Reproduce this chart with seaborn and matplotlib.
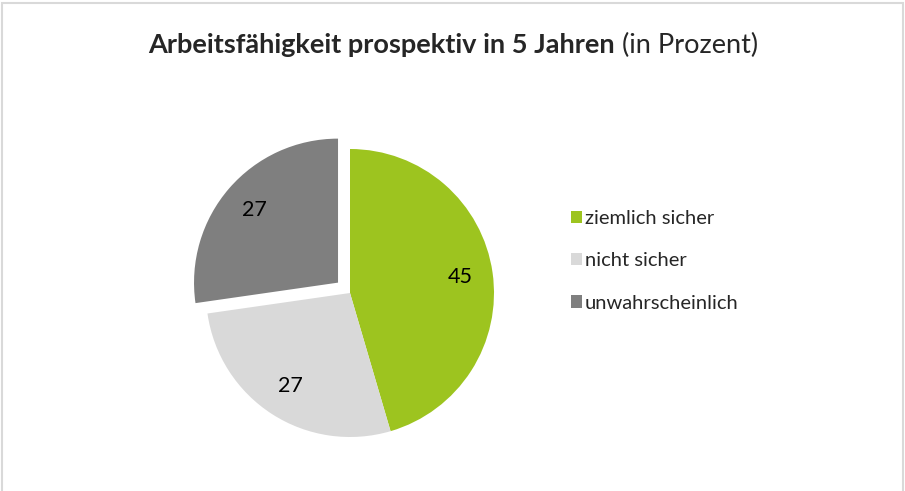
import seaborn as sns
import matplotlib.pyplot as plt
from matplotlib.patches import Rectangle

# data
categories = ['ziemlich sicher', 'nicht sicher', 'unwahrscheinlich']
values = [45, 27, 27]
colors = ['#9DC41F', '#D9D9D9', '#7F7F7F']
explode = [0, 0, 0.11]

sns.set_theme(style="white")
plt.rcParams['font.family'] = ['Lato', 'DejaVu Sans']

fig = plt.figure(figsize=(9.05, 4.91), dpi=100)

# light frame around the chart area (open at the bottom)
fig.patches.append(Rectangle((2 / 905, -0.1), 901 / 905, 1.1 - 3 / 491,
                             transform=fig.transFigure, fill=False,
                             edgecolor='#D9D9D9', linewidth=1.5))

# square axes so the pie sits where it does in the original
ax = fig.add_axes([170 / 905, 18 / 491, 360 / 905, 360 / 491])
total = sum(values)
wedges, texts, autotexts = ax.pie(
    values, colors=colors, explode=explode, startangle=90, counterclock=False,
    autopct=lambda p: f"{p * total / 100:.0f}", pctdistance=0.77,
    wedgeprops=dict(linewidth=0), textprops=dict(fontsize=15.5, color='black'))
ax.set_xlim(-1.25, 1.25)
ax.set_ylim(-1.25, 1.25)
ax.set_aspect('equal')
ax.axis('off')

# legend
fig.legend(wedges, categories, loc='center left',
           bbox_to_anchor=(571 / 905, 1 - 261 / 491), frameon=False,
           fontsize=14.5, handlelength=0.55, handleheight=0.55,
           handletextpad=0.15, labelspacing=1.25,
           borderpad=0, borderaxespad=0)

# title: bold part + normal part
t1 = fig.text(0, 1 - 45 / 491, 'Arbeitsfähigkeit prospektiv in 5 Jahren',
              fontsize=19.5, fontweight='bold', va='center', ha='left')
t2 = fig.text(0, 1 - 45 / 491, ' (in Prozent)', fontsize=19.5,
              va='center', ha='left')
fig.canvas.draw()
r = fig.canvas.get_renderer()
w1 = t1.get_window_extent(r).width
w2 = t2.get_window_extent(r).width
start = (453 - (w1 + w2) / 2)
t1.set_x(start / 905)
t2.set_x((start + w1) / 905)

plt.savefig('out.png', dpi=100)
